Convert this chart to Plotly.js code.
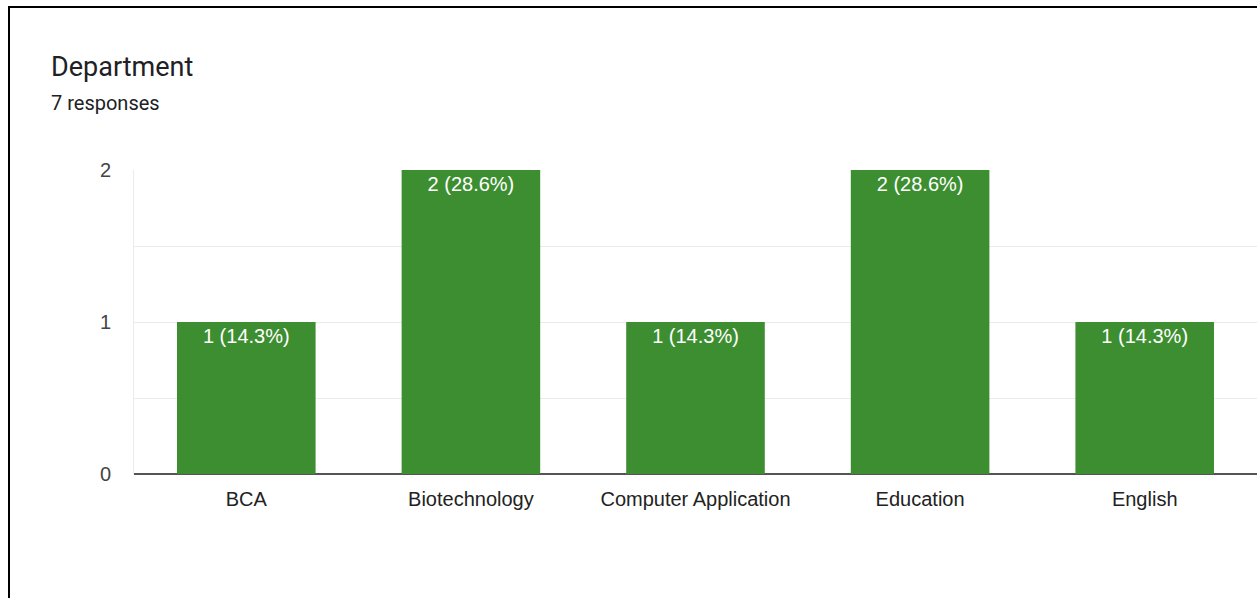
<!DOCTYPE html>
<html>
<head>
<meta charset="utf-8">
<script src="https://cdn.plot.ly/plotly-3.0.1.min.js"></script>
<style>
  html, body { margin: 0; padding: 0; background: #fff; width: 1257px; height: 598px; overflow: hidden; }
  #frame { position: absolute; left: 8px; top: 6px; width: 1400px; height: 700px; border-top: 2px solid #000; border-left: 2px solid #000; }
  #chart { position: absolute; left: 0; top: 0; width: 1257px; height: 598px; }
</style>
</head>
<body>
<div id="frame"></div>
<div id="chart"></div>
<script>
const categories = ["BCA", "Biotechnology", "Computer Application", "Education", "English"];
const counts = [1, 2, 1, 2, 1];
const yTickVals = [0, 0.5, 1, 1.5, 2];
const yTickText = ["0", "", "1", "", "2"];
const chartTitle = "Department";
const responsesText = "7 responses";

const total = counts.reduce((a, b) => a + b, 0);
const labels = counts.map(v => v + " (" + (v / total * 100).toFixed(1) + "%)");

const W = 1257, H = 598;
const mL = 134, mR = 0, mT = 170, mB = 124;
const pw = W - mL - mR;
const ph = H - mT - mB;

const trace = {
  type: "bar",
  x: categories,
  y: counts,
  text: labels,
  textposition: "inside",
  insidetextanchor: "end",
  textangle: 0,
  constraintext: "none",
  insidetextfont: { family: "Liberation Sans, Arial, sans-serif", size: 20, color: "#ffffff" },
  marker: { color: "#3d8e30", line: { width: 0 } },
  hoverinfo: "none"
};

const layout = {
  width: W,
  height: H,
  margin: { l: mL, r: mR, t: mT, b: mB, pad: 0 },
  paper_bgcolor: "rgba(0,0,0,0)",
  plot_bgcolor: "rgba(0,0,0,0)",
  showlegend: false,
  bargap: 0.383,
  xaxis: {
    type: "category",
    showgrid: false,
    zeroline: false,
    showline: false,
    ticks: "outside",
    ticklen: 7,
    tickcolor: "rgba(0,0,0,0)",
    tickfont: { family: "Liberation Sans, Arial, sans-serif", size: 20, color: "#222222" },
    fixedrange: true
  },
  yaxis: {
    range: [0, 2],
    tickmode: "array",
    tickvals: yTickVals,
    ticktext: yTickText,
    showgrid: true,
    gridcolor: "#ebebeb",
    gridwidth: 1,
    zeroline: true,
    zerolinecolor: "#555555",
    zerolinewidth: 2,
    showline: true,
    linecolor: "#ebebeb",
    linewidth: 1,
    ticks: "outside",
    ticklen: 18,
    tickcolor: "rgba(0,0,0,0)",
    tickfont: { family: "Liberation Sans, Arial, sans-serif", size: 20, color: "#444444" },
    fixedrange: true
  },
  annotations: [
    {
      text: chartTitle,
      xref: "paper", yref: "paper",
      x: (49 - mL) / pw, y: 1 + (mT - 67) / ph,
      xanchor: "left", yanchor: "middle",
      showarrow: false,
      font: { family: "Roboto, sans-serif", size: 27, color: "#202124" }
    },
    {
      text: responsesText,
      xref: "paper", yref: "paper",
      x: (49 - mL) / pw, y: 1 + (mT - 103) / ph,
      xanchor: "left", yanchor: "middle",
      showarrow: false,
      font: { family: "Roboto, sans-serif", size: 20, color: "#202124" }
    }
  ]
};

Plotly.newPlot("chart", [trace], layout, { staticPlot: true, displayModeBar: false });
</script>
</body>
</html>
